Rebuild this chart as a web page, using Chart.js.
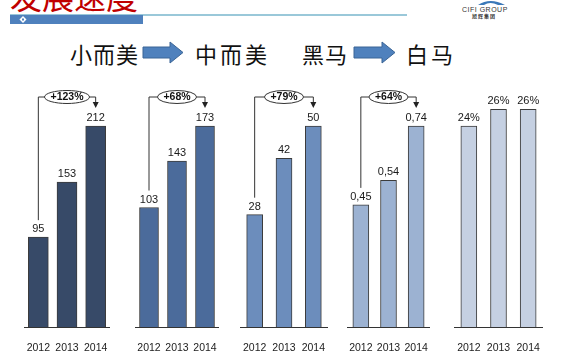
<!DOCTYPE html>
<html>
<head>
<meta charset="utf-8">
<script src="https://cdn.jsdelivr.net/npm/chart.js@4.4.1/dist/chart.umd.min.js"></script>
<style>
  html, body { margin: 0; padding: 0; background: #fff; }
  body { width: 570px; height: 360px; position: relative; overflow: hidden; font-family: "Liberation Sans", Arial, sans-serif; }
  .abs { position: absolute; }
  .title { left: 10px; top: -21px; font-size: 32px; line-height: 1; color: #c00000; font-family: "Noto Sans CJK SC", serif; white-space: nowrap; }
  .sub { top: 42px; font-size: 22px; line-height: 1; color: #111; font-family: "Noto Sans CJK SC", sans-serif; white-space: nowrap; letter-spacing: 1px; }
  .logo1 { left: 462px; top: 6px; font-size: 7px; line-height: 1; color: #333; letter-spacing: 0.5px; }
  .logo2 { left: 472px; top: 13px; font-size: 5px; line-height: 1; color: #333; font-family: "Noto Sans CJK SC", sans-serif; font-weight: bold; letter-spacing: 1px; }
</style>
</head>
<body>

<svg class="abs" style="left:0;top:0" width="570" height="80">
  <line x1="10" y1="15" x2="407" y2="15" stroke="#79b6cc" stroke-width="1.5"/>
  <rect x="10" y="15" width="133" height="9" fill="#4f81bd"/>
  <rect x="20.5" y="17" width="5" height="5" fill="#fff" transform="rotate(45 23 19.5)"/>
  <rect x="22" y="18.5" width="2" height="2" fill="#4f81bd"/>
  <path d="M143,47 L170,47 L170,42 L183,52.5 L170,63 L170,58 L143,58 Z" fill="#4f81bd" stroke="#3b6596" stroke-width="1"/>
  <path d="M354,47 L382,47 L382,42 L395,52.5 L382,63 L382,58 L354,58 Z" fill="#4f81bd" stroke="#3b6596" stroke-width="1"/>
  <path d="M478,5 Q490,-3 505,5 L498,5 Q490,1 484,5 Z" fill="#3a78b8"/>
</svg>

<div class="abs title">发展速度</div>
<div class="abs logo1">CIFI GROUP</div>
<div class="abs logo2">旭辉集团</div>

<div class="abs sub" style="left:70px">小而美</div>
<div class="abs sub" style="left:195px; letter-spacing:3px">中而美</div>
<div class="abs sub" style="left:302px">黑马</div>
<div class="abs sub" style="left:406px; letter-spacing:3px">白马</div>

<div id="charts"></div>

<script>
// Chart data
const years = ['2012', '2013', '2014'];
const smallBeautyValues = [95, 153, 212];
const midBeautyValues = [103, 143, 173];
const darkHorseValues = [28, 42, 50];
const whiteHorseValues = [0.45, 0.54, 0.74];
const shareValues = [24, 26, 26];
const growthLabels = ['+123%', '+68%', '+79%', '+64%', null];

const groups = [smallBeautyValues, midBeautyValues, darkHorseValues, whiteHorseValues, shareValues];

// Layout / style per group
const axisSpans = [[24, 110], [135, 219], [240, 328], [347, 430], [454, 543]];
const barColors = ['#374a68', '#4b6b9b', '#6c8dbc', '#9cb2d2', '#c5d0e2'];
const barWidths = [20, 19, 16, 16, 16];
const yMaxes = [231, 188.5, 54.5, 0.806, 26.15];

const FONT = '"Liberation Sans", Arial, sans-serif';

function formatValue(groupIndex, v) {
    if (groupIndex === 3) return v.toFixed(2).replace('.', ',');
    if (groupIndex === 4) return v + '%';
    return String(v);
}

// Base line under the bars + value labels above each bar
const valueLabelPlugin = {
    id: 'valueLabels',
    afterDatasetsDraw(chart) {
        const ctx = chart.ctx;
        const gi = chart.options.groupIndex;
        const meta = chart.getDatasetMeta(0);
        const area = chart.chartArea;
        ctx.save();
        ctx.strokeStyle = '#333';
        ctx.lineWidth = 1;
        ctx.beginPath();
        ctx.moveTo(area.left, Math.round(area.bottom) + 0.5);
        ctx.lineTo(area.right, Math.round(area.bottom) + 0.5);
        ctx.stroke();

        ctx.font = '11px ' + FONT;
        ctx.fillStyle = '#1a1a1a';
        ctx.textAlign = 'center';
        ctx.textBaseline = 'alphabetic';
        meta.data.forEach((bar, i) => {
            ctx.fillText(formatValue(gi, chart.data.datasets[0].data[i]), bar.x, bar.y - 5);
        });
        ctx.restore();
    }
};

// Growth bracket with oval label and arrow
const growthBracketPlugin = {
    id: 'growthBracket',
    afterDatasetsDraw(chart) {
        const gi = chart.options.groupIndex;
        const label = growthLabels[gi];
        if (!label) return;
        const ctx = chart.ctx;
        const meta = chart.getDatasetMeta(0);
        const first = meta.data[0];
        const mid = meta.data[1];
        const last = meta.data[2];
        const topY = chart.chartArea.top - 11;

        ctx.save();
        ctx.font = 'bold 10.5px ' + FONT;
        const tw = ctx.measureText(label).width;
        const rx = tw / 2 + 6;
        const ry = 6.5;
        const cx = mid.x;

        ctx.strokeStyle = '#333';
        ctx.lineWidth = 1;
        ctx.beginPath();
        ctx.moveTo(first.x, first.y - 17);
        ctx.lineTo(first.x, topY);
        ctx.lineTo(cx - rx, topY);
        ctx.moveTo(cx + rx, topY);
        ctx.lineTo(last.x, topY);
        ctx.lineTo(last.x, last.y - 23);
        ctx.stroke();

        // arrow head
        ctx.fillStyle = '#222';
        ctx.beginPath();
        ctx.moveTo(last.x - 3, last.y - 24);
        ctx.lineTo(last.x + 3, last.y - 24);
        ctx.lineTo(last.x, last.y - 18);
        ctx.closePath();
        ctx.fill();

        // oval
        ctx.fillStyle = '#fff';
        ctx.beginPath();
        ctx.ellipse(cx, topY, rx, ry, 0, 0, Math.PI * 2);
        ctx.fill();
        ctx.stroke();

        ctx.fillStyle = '#111';
        ctx.textAlign = 'center';
        ctx.textBaseline = 'middle';
        ctx.fillText(label, cx, topY + 0.5);
        ctx.restore();
    }
};

const CANVAS_TOP = 75;
const CANVAS_HEIGHT = 300;
const container = document.getElementById('charts');

groups.forEach((values, gi) => {
    const [x0, x1] = axisSpans[gi];
    const canvas = document.createElement('canvas');
    canvas.width = x1 - x0;
    canvas.height = CANVAS_HEIGHT;
    canvas.className = 'abs';
    canvas.style.left = x0 + 'px';
    canvas.style.top = CANVAS_TOP + 'px';
    container.appendChild(canvas);

    new Chart(canvas.getContext('2d'), {
        type: 'bar',
        data: {
            labels: years,
            datasets: [{
                data: values,
                backgroundColor: barColors[gi],
                borderColor: '#3c3c3c',
                borderWidth: 1,
                barThickness: barWidths[gi]
            }]
        },
        options: {
            groupIndex: gi,
            responsive: false,
            animation: false,
            layout: { padding: { top: 33, bottom: 7, left: 0, right: 0 } },
            plugins: {
                legend: { display: false },
                tooltip: { enabled: false }
            },
            scales: {
                x: {
                    grid: { display: false, drawTicks: false },
                    border: { display: false },
                    ticks: {
                        font: { family: FONT, size: 10.5 },
                        color: '#222',
                        padding: 14,
                        autoSkip: false,
                        maxRotation: 0
                    },
                    // let the axis use the full canvas width
                    afterFit(scale) {
                        scale.paddingLeft = 0;
                        scale.paddingRight = 0;
                    }
                },
                y: { display: false, min: 0, max: yMaxes[gi] }
            }
        },
        plugins: [valueLabelPlugin, growthBracketPlugin]
    });
});
</script>
</body>
</html>
